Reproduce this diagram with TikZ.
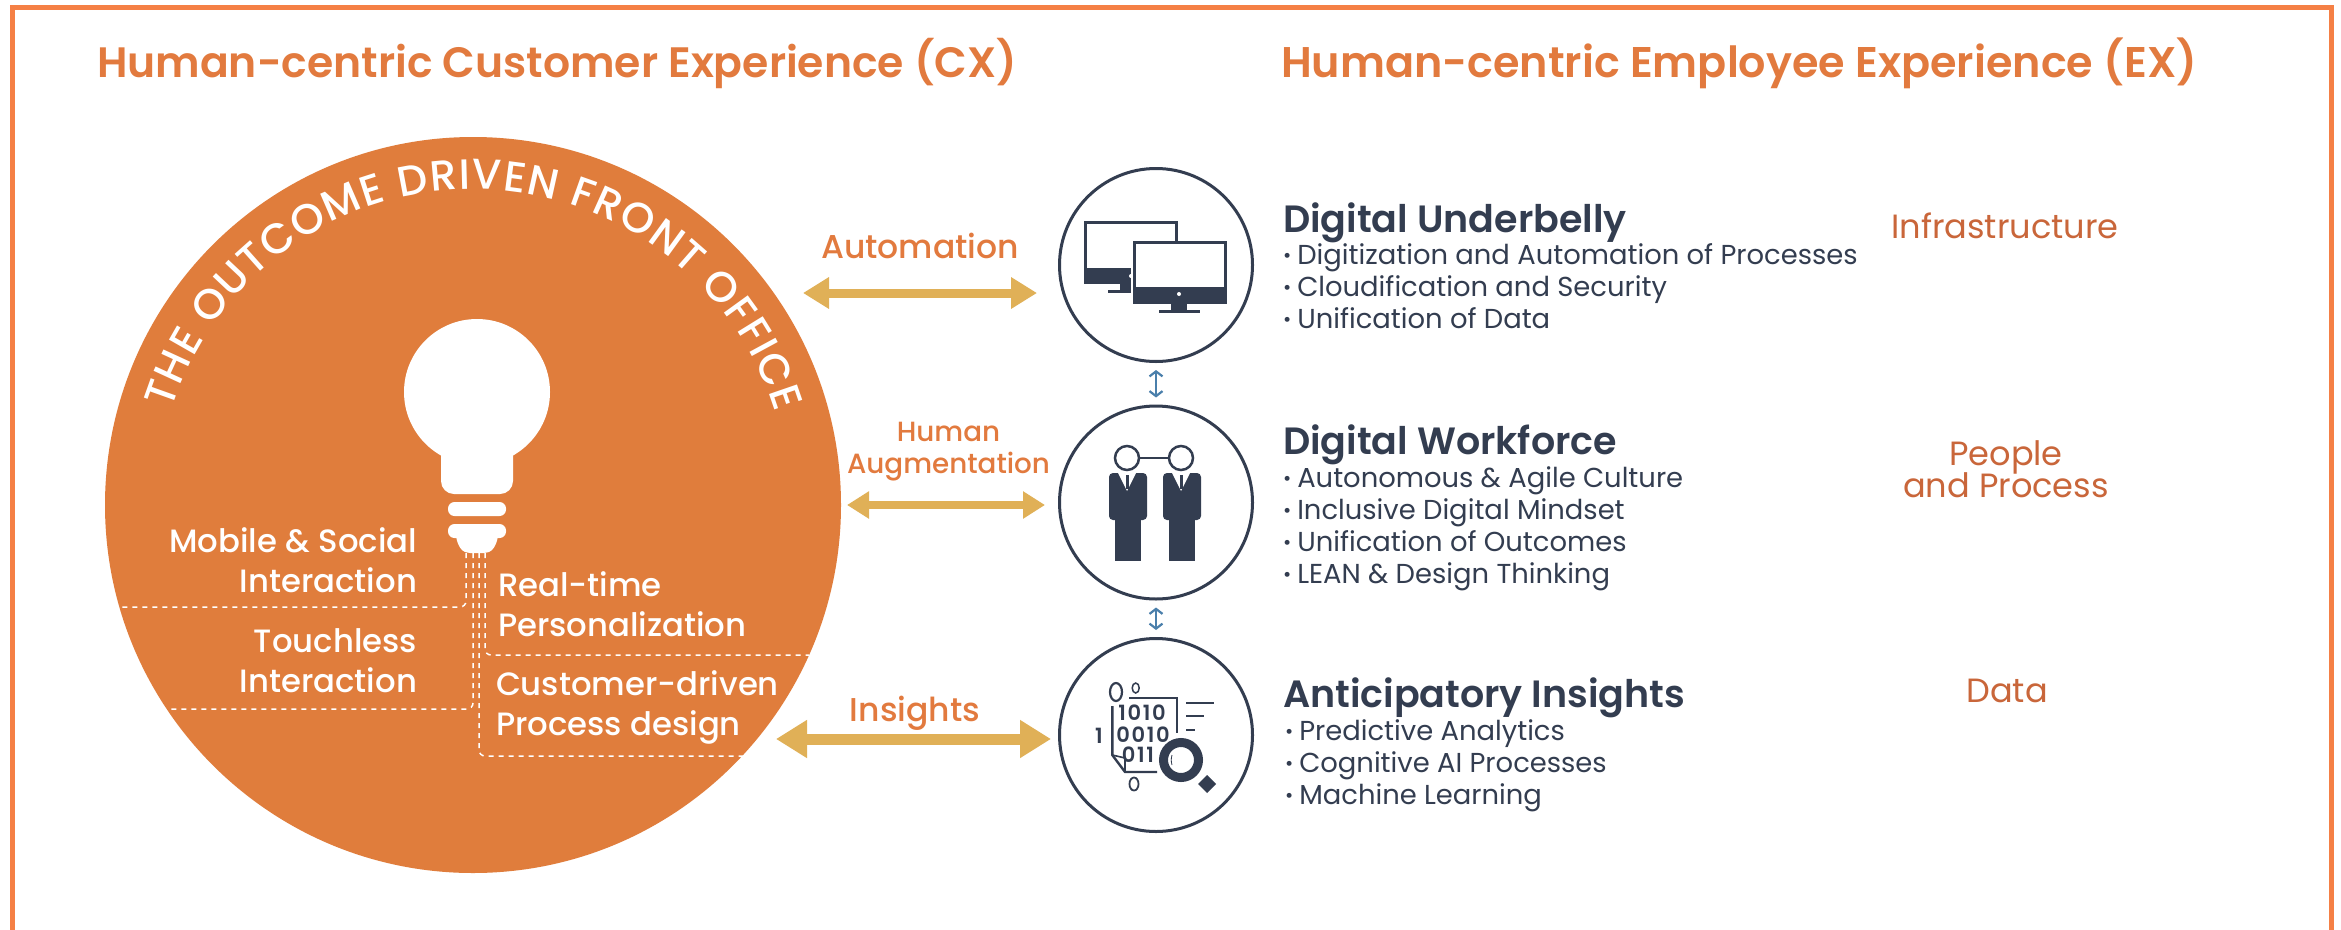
\documentclass[tikz,border=0pt]{standalone}
\usepackage{fontspec}
\usetikzlibrary{arrows.meta,decorations.text}
\setmainfont{Poppins}
\newfontfamily\pmed{Poppins Medium}
\newfontfamily\psemi{Poppins SemiBold}
\newfontfamily\pdig[LetterSpace=8]{Poppins SemiBold}
\newcommand{\fsz}[2]{\fontsize{#1}{#2}\selectfont}
\newcommand{\nolim}{\lineskiplimit=-100pt\relax}
\newcommand{\itm}{\raisebox{1.5pt}{\fontsize{20}{20}\selectfont •}\kern 6pt}
\definecolor{frameC}{HTML}{F58045}
\definecolor{orangeC}{HTML}{E07D3C}
\definecolor{titleC}{HTML}{E27A3E}
\definecolor{darkC}{HTML}{333D50}
\definecolor{rustC}{HTML}{C9663A}
\definecolor{goldC}{HTML}{E0B057}
\definecolor{blueC}{HTML}{4A7FAB}
\tikzset{
  txt/.style={inner sep=0pt,outer sep=0pt},
  titletxt/.style={txt,anchor=base west,text=titleC,font=\psemi\fsz{42.5}{42.5}},
  headtxt/.style={txt,anchor=base west,text=darkC,font=\psemi\fsz{38}{38}},
  itemtxt/.style={txt,anchor=base west,text=darkC,align=left,font=\fsz{27.4}{32}\nolim},
  sidetxt/.style={txt,anchor=base,text=rustC,align=center,font=\fsz{33.6}{31.5}\nolim},
  flowtxt/.style={txt,anchor=base,text=titleC,align=center,font=\pmed\fsz{33}{32}},
  flowsm/.style={txt,anchor=base,text=titleC,align=center,font=\pmed\fsz{27.8}{32}\nolim},
  intxtr/.style={txt,anchor=base east,text=white,align=right,font=\pmed\fsz{32.3}{40}},
  intxtl/.style={txt,anchor=base west,text=white,align=left,font=\pmed\fsz{32.3}{39.5}},
  iconcirc/.style={circle,draw=darkC,line width=3pt,fill=white,minimum size=193pt,inner sep=0pt},
  dashline/.style={draw=white,line width=1.5pt,dash pattern=on 5pt off 5pt,rounded corners=6pt},
  blink/.style={draw=blueC,line width=2.2pt,{Straight Barb[length=5pt,width=13pt]}-{Straight Barb[length=5pt,width=13pt]},shorten <=7pt,shorten >=7pt,xshift=1pt},
  digit/.style={txt,text=darkC,font=\pdig\fsz{21}{21}},
}
\begin{document}
\begin{tikzpicture}[x=1pt,y=-1pt]
\useasboundingbox (0,0) rectangle (2341,929);
\fill[white] (0,0) rectangle (2341,929);
% frame
\draw[frameC,line width=5pt] (12,935) -- (12,7) -- (2331,7) -- (2331,935);
% titles
\node[titletxt] (tcx) at (97,77) {Human-centric Customer Experience (CX)};
\node[titletxt] (tex) at (1281,77) {\fsz{42.9}{42.9}Human-centric Employee Experience (EX)};
% main circle
\node[circle,fill=orangeC,minimum size=736pt,inner sep=0pt] (main) at (473,505) {};
\path[decorate,decoration={text along path,text align={fit to path},
  text={|\pmed\fsz{42.4}{42.4}\color{white}|THE OUTCOME DRIVEN FRONT OFFICE}}]
  (171.6,410) arc[start angle=197.5,end angle=343,radius=316];
% bulb
\fill[white] (477,392) circle[radius=73];
\fill[white,rounded corners=13pt] (441,440) rectangle (513,494);
\fill[white,rounded corners=6.5pt] (448,502) rectangle (506,516);
\fill[white,rounded corners=6.5pt] (448,524) rectangle (506,538);
\fill[white] (456,536) .. controls (458,548) and (463,553) .. (470,553) -- (484,553) .. controls (491,553) and (496,548) .. (498,536) -- cycle;
% dashed
\draw[dashline] (466,553) -- (466,607) -- (118,607);
\draw[dashline] (473,553) -- (473,709) -- (168,709);
\draw[dashline] (479,553) -- (479,756) -- (743,756);
\draw[dashline] (485,553) -- (485,655) -- (809,655);
% inside labels
\node[intxtr] (mob) at (417,592) {Mobile \& Social\\Interaction};
\node[intxtr] (tou) at (417,692) {Touchless\\Interaction};
\node[intxtl] (rea) at (498,636) {Real-time\\Personalization};
\node[intxtl] (cus) at (496,735) {Customer-driven\\Process design};
% icon circles
\node[iconcirc] (c1) at (1156,265) {};
\node[iconcirc] (c2) at (1156,502.5) {};
\node[iconcirc] (c3) at (1156,735) {};
\draw[blink] (c1.south) -- (c2.north);
\draw[blink] (c2.south) -- (c3.north);
% gold arrows
\coordinate (a1l) at (803,293); \coordinate (a1r) at (1037,293);
\coordinate (a2l) at (847,505); \coordinate (a2r) at (1045,505);
\coordinate (a3l) at (776,739); \coordinate (a3r) at (1051,739);
\draw[goldC,line width=9pt,{Triangle[length=26pt,width=30pt]}-{Triangle[length=26pt,width=30pt]}] (a1l) -- (a1r);
\draw[goldC,line width=8.5pt,{Triangle[length=22pt,width=26pt]}-{Triangle[length=22pt,width=26pt]}] (a2l) -- (a2r);
\draw[goldC,line width=11pt,{Triangle[length=31pt,width=36pt]}-{Triangle[length=31pt,width=36pt]}] (a3l) -- (a3r);
\node[flowtxt] (lauto) at (920,258) {Automation};
\node[flowsm] (lhum) at (948.5,473) {Human\\Augmentation};
\node[flowtxt] (lins) at (915,721) {Insights};
% monitors
\fill[darkC] (1084.3,221) rectangle (1178,284);
\fill[white] (1087.3,224) rectangle (1175,268);
\fill[darkC] (1120,284) rectangle (1136,292);
\fill[darkC] (1108,290) rectangle (1136,292.5);
\fill[white] (1131,276) circle[radius=2];
\fill[white] (1131,241) rectangle (1229,306);
\fill[darkC] (1133,241) rectangle (1227,304);
\fill[white] (1136,244) rectangle (1224,287);
\fill[darkC] (1171,304) rectangle (1187,312);
\fill[darkC] (1159,310) rectangle (1200,312.5);
\fill[white] (1179,294) circle[radius=2];
% people
\foreach \dx in {0,54}{
  \begin{scope}[xshift=\dx pt]
  \draw[darkC,line width=2.5pt,fill=white] (1127,458) circle[radius=12];
  \fill[darkC,rounded corners=4pt] (1109,473) rectangle (1147,520);
  \fill[darkC] (1115,515) rectangle (1141,561);
  \fill[white] (1117.5,472) -- (1127,491) -- (1136.5,472) -- cycle;
  \fill[darkC] (1125.5,475) rectangle (1128.5,489);
  \end{scope}
}
\draw[darkC,line width=2.5pt] (1139,458) -- (1169,458);
% data icon
\draw[darkC,line width=2.2pt] (1116,692) ellipse[x radius=6,y radius=9];
\draw[darkC,line width=1.5pt] (1135.7,688) ellipse[x radius=3.5,y radius=5];
\draw[darkC,line width=1.8pt] (1134,784) ellipse[x radius=4.5,y radius=6.5];
\draw[darkC,line width=2.4pt] (1112.3,706) -- (1112.3,755) -- (1125,772) -- (1157,772);
\draw[darkC,line width=2.4pt] (1129,698) -- (1177,698) -- (1177,733);
\draw[darkC,line width=1.6pt] (1112.3,755) -- (1125,758) -- (1125,772);
\draw[darkC,line width=2.2pt] (1186,703) -- (1214,703);
\draw[darkC,line width=2.2pt] (1186,716) -- (1204,716);
\draw[darkC,line width=2.2pt] (1186,730) -- (1195,730);
\node[digit,anchor=base] (d1) at (1142,720) {1010};
\node[digit,anchor=base] (d2) at (1099,743) {1};
\node[digit,anchor=base] (d3) at (1143,742) {0010};
\node[digit,anchor=base] (d4) at (1138,762) {011};
\draw[darkC,line width=9pt,fill=white] (1181,760) circle[radius=17.5];
\fill[darkC] (1207,775) -- (1216,784) -- (1207,793) -- (1198,784) -- cycle;
\draw[darkC,line width=0.8pt] (1172,755) .. controls (1171,758) and (1171,762) .. (1172,765);
% right texts
\node[headtxt] (h1) at (1283,232) {Digital Underbelly};
\node[itemtxt] (i1) at (1283,328) {\itm Digitization and Automation of Processes\\\itm Cloudification and Security\\\itm Unification of Data};
\node[headtxt] (h2) at (1283,454.5) {Digital Workforce};
\node[itemtxt] (i2) at (1283,583) {\itm Autonomous \& Agile Culture\\\itm Inclusive Digital Mindset\\\itm Unification of Outcomes\\\itm LEAN \& Design Thinking};
\node[headtxt] (h3) at (1283,707) {Anticipatory Insights};
\node[itemtxt] (i3) at (1285,804) {\itm Predictive Analytics\\\itm Cognitive AI Processes\\\itm Machine Learning};
\node[sidetxt] (s1) at (2005,238) {Infrastructure};
\node[sidetxt] (s2) at (2006,497) {People\\and Process};
\node[sidetxt] (s3) at (2007,702) {Data};
\end{tikzpicture}
\end{document}
